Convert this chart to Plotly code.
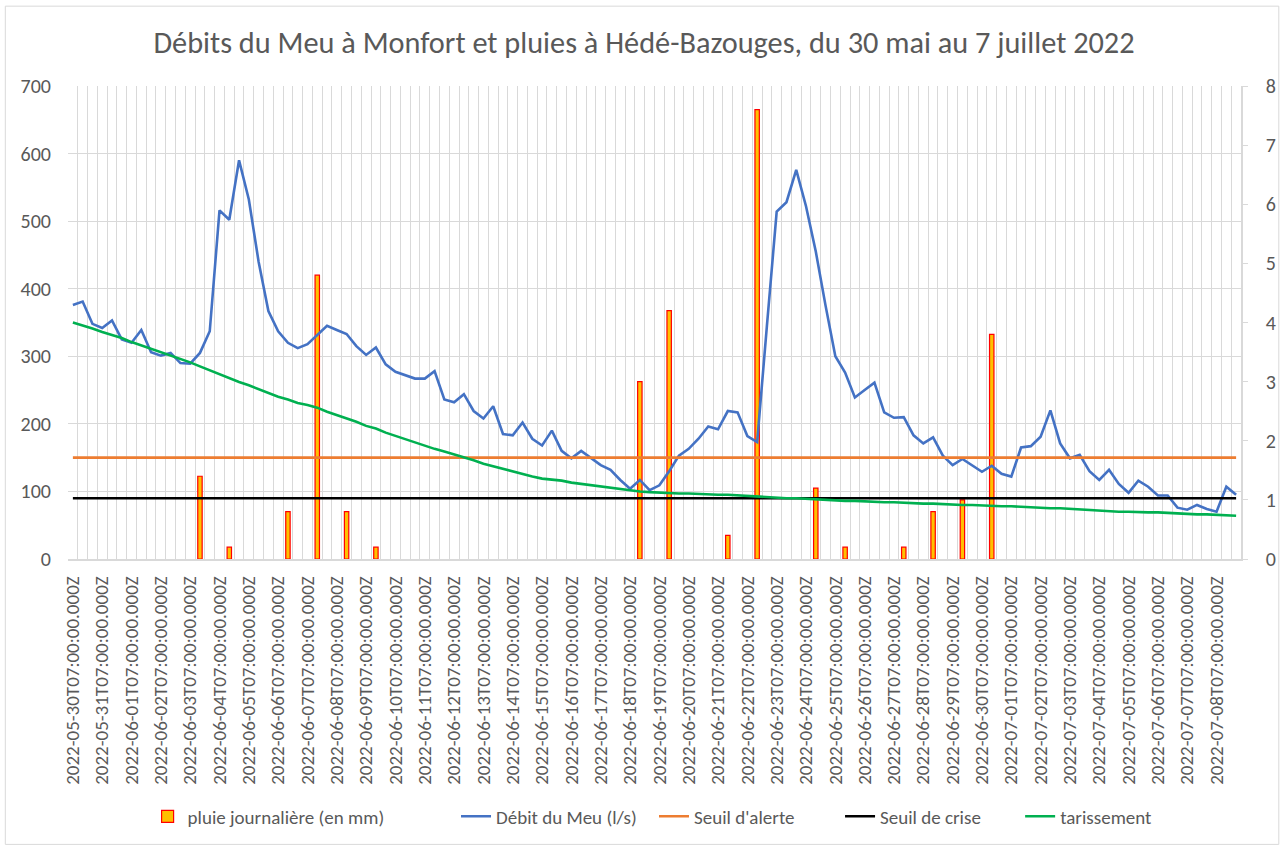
import plotly.graph_objects as go
import pandas as pd

# ---- categories (3 slots per day, labels on the 07:00 slot) ----
days = [d.strftime("%Y-%m-%d") for d in pd.date_range("2022-05-30", "2022-07-08", freq="D")]
slots = ["07", "15", "23"]
categories = [f"{d}T{h}:00:00.000Z" for d in days for h in slots]
tick_text = [c if c[11:13] == "07" else "" for c in categories]

# ---- flow of the Meu (l/s), one value per category ----
debit = [376, 381, 348, 342, 353, 325, 320, 339, 306, 301,
         305, 290, 289, 305, 337, 516, 502, 590, 532, 440,
         367, 337, 320, 312, 318, 332, 345, 339, 333, 315,
         302, 313, 288, 277, 272, 267, 267, 278, 236, 232,
         244, 219, 208, 226, 185, 183, 202, 178, 168, 190,
         160, 149, 160, 150, 139, 132, 117, 104, 117, 102,
         109, 130, 153, 163, 178, 196, 192, 219, 217, 182,
         173, 345, 514, 528, 576, 522, 455, 375, 300, 276,
         239, 250, 261, 217, 209, 210, 183, 171, 180, 153,
         139, 148, 138, 129, 138, 126, 122, 165, 167, 181,
         220, 171, 149, 154, 130, 117, 132, 111, 98, 116,
         107, 94, 94, 76, 73, 80, 74, 70, 107, 95]

# ---- recession curve (tarissement) ----
tarissement = [350, 346, 341, 336, 332, 327, 321, 316, 312, 307,
               301, 296, 291, 285, 279, 274, 268, 262, 257, 251,
               245, 240, 236, 231, 228, 224, 218, 213, 209, 203,
               197, 193, 187, 182, 177, 173, 168, 163, 159, 155,
               151, 146, 141, 137, 133, 129, 126, 122, 119, 118,
               116, 113, 111, 110, 108, 106, 104, 102, 100, 99,
               98, 98, 97, 97, 96, 96, 95, 95, 94, 93,
               93, 92, 91, 90, 90, 89, 89, 88, 87, 86,
               86, 85, 85, 84, 84, 83, 83, 82, 82, 81,
               81, 80, 80, 79, 79, 78, 78, 77, 77, 76,
               75, 75, 74, 73, 72, 71, 71, 70, 70, 69,
               69, 69, 68, 67, 67, 66, 66, 65, 65, 64]

# ---- thresholds (l/s) ----
seuil_alerte_value = 150
seuil_crise_value = 90
seuil_alerte = [seuil_alerte_value] * len(categories)
seuil_crise = [seuil_crise_value] * len(categories)

# ---- daily rain (mm) at Hédé-Bazouges ----
rain_cats = ["2022-06-03T15:00:00.000Z", "2022-06-04T15:00:00.000Z", "2022-06-06T15:00:00.000Z",
             "2022-06-07T15:00:00.000Z", "2022-06-08T15:00:00.000Z", "2022-06-09T15:00:00.000Z",
             "2022-06-18T15:00:00.000Z", "2022-06-19T15:00:00.000Z", "2022-06-21T15:00:00.000Z",
             "2022-06-22T15:00:00.000Z", "2022-06-24T15:00:00.000Z", "2022-06-25T15:00:00.000Z",
             "2022-06-27T15:00:00.000Z", "2022-06-28T15:00:00.000Z", "2022-06-29T15:00:00.000Z",
             "2022-06-30T15:00:00.000Z"]
rain_mm = [1.4, 0.2, 0.8, 4.8, 0.8, 0.2, 3.0, 4.2, 0.4, 7.6, 1.2, 0.2, 0.2, 0.8, 1.0, 3.8]

FONT = "Carlito, Lato, sans-serif"
GREY = "#595959"
GRID = "#d9d9d9"

PLOT_L, PLOT_W = 68, 1179
PLOT_B, PLOT_H = 560, 474


def px_x(x):
    return (x - PLOT_L) / PLOT_W


def px_y(y):
    return (PLOT_B - y) / PLOT_H


fig = go.Figure()
fig.add_trace(go.Bar(x=rain_cats, y=rain_mm, name="pluie journalière (en mm)",
                     marker=dict(color="#FFC000", line=dict(color="#FF0000", width=1.2)),
                     width=0.45, yaxis="y", legend="legend"))
fig.add_trace(go.Scatter(x=categories, y=debit, name="Débit du Meu (l/s)", mode="lines",
                         line=dict(color="#4472C4", width=2.6), yaxis="y2", legend="legend2"))
fig.add_trace(go.Scatter(x=categories, y=seuil_alerte, name="Seuil d'alerte", mode="lines",
                         line=dict(color="#ED7D31", width=2.6), yaxis="y2", legend="legend3"))
fig.add_trace(go.Scatter(x=categories, y=seuil_crise, name="Seuil de crise", mode="lines",
                         line=dict(color="#000000", width=2.6), yaxis="y2", legend="legend4"))
fig.add_trace(go.Scatter(x=categories, y=tarissement, name="tarissement", mode="lines",
                         line=dict(color="#00B050", width=2.6), yaxis="y2", legend="legend5"))

# text start positions (px) of each legend entry in the reference
legend_text_x = [190, 500, 699, 886, 1067]
legends = {}
for k, tx in enumerate(legend_text_x):
    key = "legend" if k == 0 else f"legend{k + 1}"
    legends[key] = dict(orientation="h", x=px_x(tx - 42), xanchor="left",
                        y=px_y(818), yanchor="middle", bgcolor="rgba(0,0,0,0)",
                        font=dict(family=FONT, size=19, color=GREY))

fig.update_layout(
    width=1288, height=848,
    margin=dict(l=68, r=41, t=86, b=288),
    paper_bgcolor="white", plot_bgcolor="white",
    font=dict(family=FONT, color=GREY, size=19),
    title=dict(text="Débits du Meu à Monfort et pluies à Hédé-Bazouges, du 30 mai au 7 juillet 2022",
               x=0.5, xanchor="center", y=1 - 42 / 848, yanchor="middle",
               font=dict(family=FONT, size=30.3, color=GREY)),
    showlegend=True,
    xaxis=dict(type="category", categoryorder="array", categoryarray=categories,
               range=[-0.5, len(categories) - 0.5],
               tickmode="array", tickvals=categories, ticktext=tick_text,
               tickangle=-90, tickson="boundaries", ticks="",
               showgrid=True, gridcolor=GRID, gridwidth=1.4,
               showline=True, linecolor=GRID, linewidth=1.5,
               tickfont=dict(family=FONT, size=19, color=GREY),
               ticklabelstandoff=8),
    yaxis=dict(side="right", range=[0, 8], dtick=1, showgrid=False, zeroline=False,
               showline=True, linecolor=GRID, linewidth=1.5,
               ticks="outside", ticklen=5, tickcolor=GRID,
               tickfont=dict(family=FONT, size=20, color=GREY), ticklabelstandoff=14),
    yaxis2=dict(side="left", overlaying="y", range=[0, 700], dtick=100,
                showgrid=True, gridcolor=GRID, gridwidth=1.4, zeroline=False,
                showline=False, ticks="",
                tickfont=dict(family=FONT, size=20, color=GREY), ticklabelstandoff=16),
    shapes=[dict(type="rect", xref="paper", yref="paper",
                 x0=px_x(5), x1=px_x(1285), y0=px_y(846), y1=px_y(6),
                 line=dict(color=GRID, width=1), fillcolor="rgba(0,0,0,0)", layer="below")],
    **legends,
)

fig.write_html("out.html", config={"displayModeBar": False},
               post_script="document.body.style.margin='0';")
